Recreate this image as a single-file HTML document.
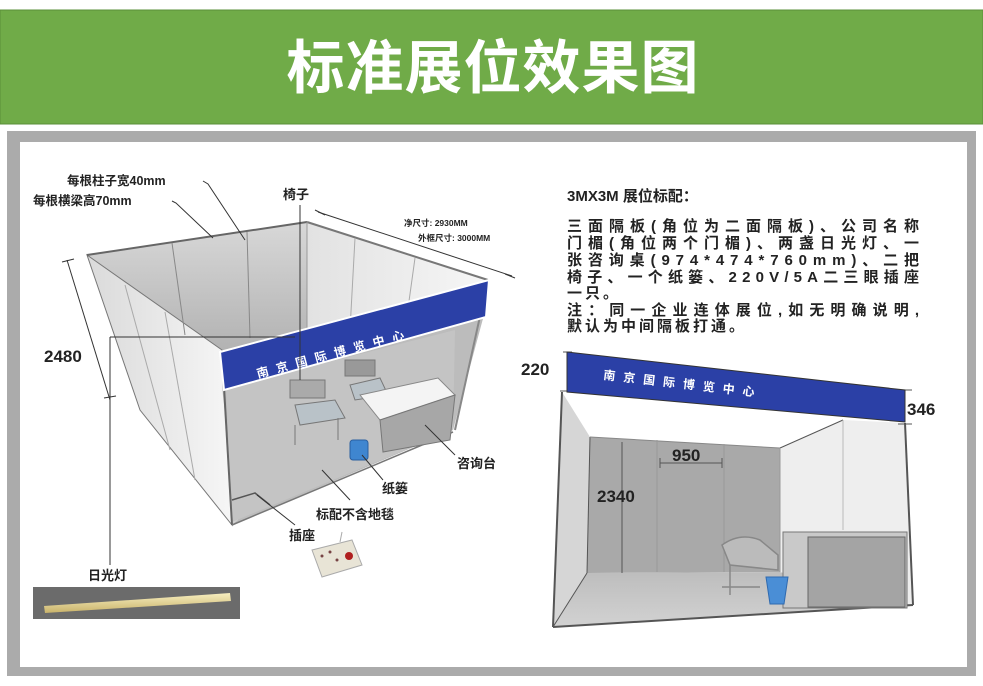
<!DOCTYPE html>
<html><head><meta charset="utf-8"><style>
html,body{margin:0;padding:0;background:#fff;width:983px;height:686px;overflow:hidden}
svg{display:block}
text{font-family:"Liberation Sans","Noto Sans CJK SC",sans-serif}
</style></head><body>
<svg width="983" height="686" viewBox="0 0 983 686" xmlns="http://www.w3.org/2000/svg">
<defs>
<linearGradient id="lw" x1="0" x2="1" y1="0" y2="0"><stop offset="0" stop-color="#dadada"/><stop offset="1" stop-color="#f6f6f6"/></linearGradient>
<linearGradient id="bw" x1="0" x2="0" y1="0" y2="1"><stop offset="0" stop-color="#d8d8d8"/><stop offset="1" stop-color="#9e9e9e"/></linearGradient>
<linearGradient id="rw" x1="0" x2="1" y1="0" y2="0"><stop offset="0" stop-color="#e2e2e2"/><stop offset="1" stop-color="#f6f6f6"/></linearGradient>
<linearGradient id="fl" x1="0" x2="0" y1="0" y2="1"><stop offset="0" stop-color="#bdbdbd"/><stop offset="1" stop-color="#d2d2d2"/></linearGradient>
<linearGradient id="tube" x1="0" x2="0" y1="0" y2="1"><stop offset="0" stop-color="#f7eec0"/><stop offset="1" stop-color="#c9b26a"/></linearGradient>
</defs>
<rect x="0" y="10" width="983" height="114" fill="#70ab48" stroke="#5a8f38" stroke-width="1"/>
<text x="493" y="88" text-anchor="middle" font-size="58" font-weight="bold" fill="#fff" letter-spacing="1">标准展位效果图</text>
<rect x="7" y="131" width="969" height="545" fill="#ababab"/>
<rect x="20" y="142" width="947" height="525" fill="#fff"/>

<polygon points="87,255 307,222 307,400 180,420" fill="url(#bw)"/>
<polygon points="307,222 488,280 455,430 307,400" fill="url(#rw)"/>
<polygon points="222,353 488,300 453,430 232,525" fill="#bcbcbc"/>
<polygon points="87,255 222,350 232,525 140,410" fill="url(#lw)" stroke="#777" stroke-width="1"/>
<line x1="125" y1="285" x2="170" y2="450" stroke="#aaa"/>
<line x1="165" y1="312" x2="195" y2="480" stroke="#aaa"/>
<polygon points="222,388 222,353 232,525 238,520" fill="#d0d0d0"/>
<polygon points="226,388 455,330 453,430 232,522" fill="#c4c4c4"/>
<line x1="87" y1="255" x2="307" y2="222" stroke="#666" stroke-width="2"/>
<line x1="307" y1="222" x2="488" y2="280" stroke="#777" stroke-width="2"/>
<line x1="172" y1="243" x2="185" y2="335" stroke="#888"/>
<line x1="247" y1="232" x2="250" y2="338" stroke="#888"/>
<line x1="307" y1="222" x2="307" y2="335" stroke="#999"/>
<line x1="355" y1="238" x2="350" y2="330" stroke="#aaa"/>
<line x1="415" y1="258" x2="405" y2="330" stroke="#aaa"/>
<line x1="488" y1="280" x2="455" y2="430" stroke="#888" stroke-width="2"/>
<line x1="222" y1="353" x2="232" y2="525" stroke="#666" stroke-width="2"/>
<line x1="232" y1="525" x2="453" y2="432" stroke="#777" stroke-width="1.5"/>
<polyline points="232,500 255,493 270,505" fill="none" stroke="#555" stroke-width="1.5"/>
<polygon points="220,352 489,280 486,317 224,390" fill="#2b40a6" stroke="#fff" stroke-width="2"/>
<text transform="translate(258,378) rotate(-15)" font-size="12" font-weight="bold" fill="#fff" letter-spacing="8">南京国际博览中心</text>
<g stroke="#777" fill="#b9c2c8" stroke-width="1">
<rect x="290" y="380" width="35" height="18" fill="#aaa"/>
<polygon points="295,405 335,400 345,418 300,425" />
<line x1="295" y1="425" x2="295" y2="445"/><line x1="338" y1="418" x2="338" y2="440"/>
<rect x="345" y="360" width="30" height="16" fill="#999"/>
<polygon points="350,385 380,378 388,395 355,400"/>
</g>
<polygon points="360,395 438,378 455,395 380,420" fill="#f4f4f4" stroke="#888"/>
<polygon points="380,420 455,395 450,440 383,452" fill="#a7a7a7" stroke="#777"/>
<rect x="350" y="440" width="18" height="20" rx="3" fill="#3f86d0" stroke="#2a5f9f"/>
<polygon points="312,550 352,540 362,565 322,577" fill="#e8e4d6" stroke="#aaa"/>
<circle cx="349" cy="556" r="4" fill="#b02020"/>
<circle cx="322" cy="556" r="1.5" fill="#744"/><circle cx="330" cy="552" r="1.5" fill="#744"/><circle cx="337" cy="560" r="1.5" fill="#744"/>
<line x1="340" y1="542" x2="342" y2="532" stroke="#aaa"/>
<g stroke="#333" stroke-width="1" fill="none">
<polyline points="203,181 208,184 245,240"/>
<polyline points="172,201 176,203 213,238"/>
<line x1="300" y1="205" x2="300" y2="380"/>
<line x1="318" y1="212" x2="512" y2="276"/>
<line x1="315" y1="210" x2="325" y2="215"/><line x1="505" y1="274" x2="515" y2="278"/>
<line x1="67" y1="260" x2="110" y2="400"/>
<line x1="62" y1="262" x2="74" y2="259"/>
<line x1="104" y1="398" x2="116" y2="396"/>
<line x1="110" y1="337" x2="295" y2="337"/>
<line x1="110" y1="337" x2="110" y2="565"/>
<line x1="425" y1="425" x2="455" y2="455"/>
<line x1="362" y1="455" x2="383" y2="480"/>
<line x1="322" y1="470" x2="350" y2="500"/>
<line x1="257" y1="495" x2="295" y2="525"/>
</g>
<g font-weight="bold" fill="#222">
<text x="67" y="185" font-size="12.5">每根柱子宽40mm</text>
<text x="33" y="205" font-size="12.5">每根横梁高70mm</text>
<text x="283" y="199" font-size="13">椅子</text>
<text x="404" y="226" font-size="8.5">净尺寸: 2930MM</text>
<text x="418" y="241" font-size="8.5">外框尺寸: 3000MM</text>
<text x="44" y="362" font-size="17">2480</text>
<text x="457" y="468" font-size="13">咨询台</text>
<text x="382" y="493" font-size="13">纸篓</text>
<text x="316" y="519" font-size="13">标配不含地毯</text>
<text x="289" y="540" font-size="13">插座</text>
<text x="88" y="580" font-size="13">日光灯</text>
</g>
<rect x="33" y="587" width="207" height="32" fill="#6b6b6b"/>
<polygon points="44,606 230,593 231,601 45,613" fill="url(#tube)"/>

<g fill="#222" font-size="15" font-weight="bold">
<text x="567" y="201">3MX3M 展位标配：</text>
<text x="567" y="231" textLength="352" lengthAdjust="spacing">三面隔板(角位为二面隔板)、公司名称</text>
<text x="567" y="248" textLength="352" lengthAdjust="spacing">门楣(角位两个门楣)、两盏日光灯、一</text>
<text x="567" y="265" textLength="352" lengthAdjust="spacing">张咨询桌(974*474*760mm)、二把</text>
<text x="567" y="282" textLength="352" lengthAdjust="spacing">椅子、一个纸篓、220V/5A二三眼插座</text>
<text x="567" y="298" letter-spacing="3">一只。</text>
<text x="567" y="315" textLength="352" lengthAdjust="spacing">注：同一企业连体展位,如无明确说明,</text>
<text x="567" y="331" letter-spacing="3">默认为中间隔板打通。</text>
</g>

<polygon points="553,627 560,390 905,423 913,605" fill="#fff"/>
<polygon points="590,437 780,448 780,572 587,573" fill="#a9a9a9"/>
<polygon points="553,627 587,573 780,572 913,605" fill="url(#fl)"/>
<polygon points="562,392 590,437 587,573 553,627" fill="#d6d6d6"/>
<polygon points="780,448 843,420 905,423 913,605 780,572" fill="#eeeeee"/>
<g stroke="#555" stroke-width="1" fill="none">
<line x1="562" y1="392" x2="553" y2="627" stroke-width="2"/>
<line x1="905" y1="423" x2="913" y2="605" stroke-width="2"/>
<line x1="553" y1="627" x2="913" y2="605" stroke-width="2"/>
<line x1="553" y1="627" x2="587" y2="573"/>
<line x1="590" y1="437" x2="587" y2="573"/>
<line x1="590" y1="437" x2="780" y2="448" stroke="#888"/>
<line x1="780" y1="448" x2="843" y2="420"/>
<line x1="657" y1="440" x2="657" y2="572" stroke="#999"/>
<line x1="724" y1="444" x2="724" y2="572" stroke="#999"/>
<line x1="780" y1="448" x2="780" y2="572" stroke="#999"/>
<line x1="843" y1="420" x2="843" y2="530" stroke="#bbb"/>
<line x1="622" y1="442" x2="622" y2="573"/>
<line x1="660" y1="463" x2="722" y2="463"/>
<line x1="660" y1="458" x2="660" y2="468"/><line x1="722" y1="458" x2="722" y2="468"/>
<line x1="563" y1="352" x2="572" y2="352"/><line x1="560" y1="391" x2="572" y2="391"/>
<line x1="898" y1="390" x2="912" y2="390"/><line x1="898" y1="424" x2="912" y2="424"/>
</g>
<rect x="783" y="532" width="124" height="76" fill="#c9c9c9" stroke="#777"/>
<rect x="808" y="537" width="97" height="70" fill="#a4a4a4" stroke="#666"/>
<g stroke="#888" fill="none" stroke-width="1.5">
<path d="M722,545 Q740,532 760,540 L778,555 L778,570 L730,565 Z" fill="#bbb"/>
<line x1="730" y1="565" x2="730" y2="595"/>
<line x1="722" y1="587" x2="760" y2="587"/>
</g>
<path d="M766,577 L788,577 L784,604 L770,604 Z" fill="#4a8ed6" stroke="#2f6ab0"/>
<polygon points="567,352 905,390 905,422 567,392" fill="#2b40a6" stroke="#333" stroke-width="1"/>
<text transform="translate(603,379) rotate(6.5)" font-size="12" font-weight="bold" fill="#fff" letter-spacing="8">南京国际博览中心</text>
<g fill="#222" font-size="17" font-weight="bold">
<text x="521" y="375">220</text>
<text x="907" y="415">346</text>
<text x="597" y="502">2340</text>
<text x="672" y="461">950</text>
</g>
</svg>
</body></html>
